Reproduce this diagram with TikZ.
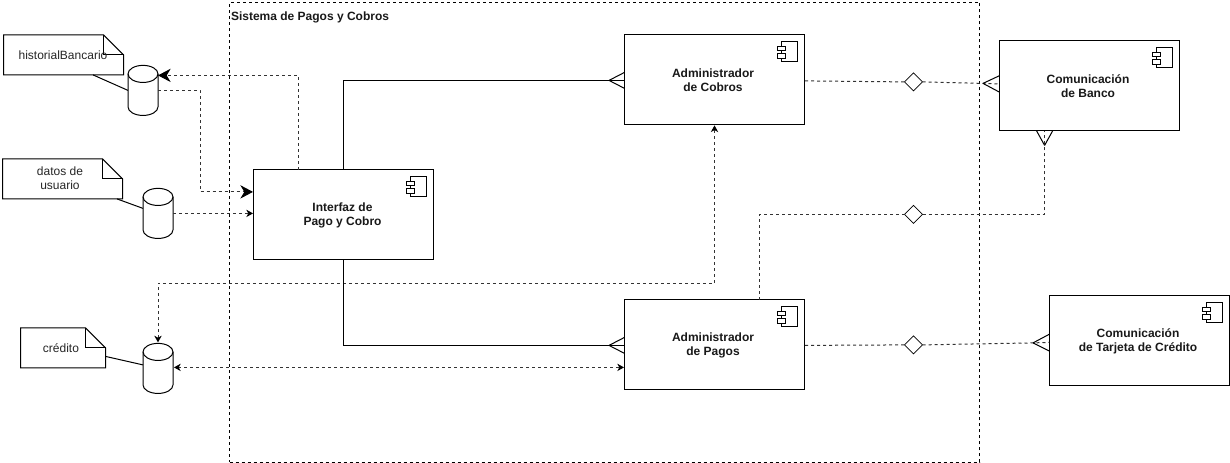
\documentclass[tikz,border=0pt]{standalone}
\usepackage{fontspec}
\setmainfont{Liberation Sans}
\usetikzlibrary{arrows.meta,calc,shapes.geometric}
\tikzset{
  x=0.75pt,y=-0.75pt,
  every node/.style={inner sep=0pt,outer sep=0pt},
  base/.style={line width=0.75pt,black,line join=miter},
  dash33/.style={base,dash pattern=on 2.25pt off 2.25pt},
  flow/.style={dash33,draw=black!80,arrows={-},fill=none},
  comp/.style={base,draw,fill=white,minimum width=135pt,minimum height=67.5pt},
  complabel/.style={align=center,font=\fontsize{9}{10.5}\selectfont\bfseries,text=black!90},
  noteshape/.style={align=center,font=\fontsize{9}{10.5}\selectfont,text=black!85},
  cylshape/.style={minimum width=22.5pt,minimum height=37.5pt},
  dia/.style={line width=0.6pt,draw=black,fill=white,shape=diamond,aspect=1,minimum width=13.5pt,minimum height=13.5pt},
  big/.style={-{Stealth[length=9.5pt,width=10pt,inset=3pt,black]}},
  small/.style={-{Stealth[length=5pt,width=5.5pt,inset=1.5pt,black]}},
  both/.style={{Stealth[length=5pt,width=5.5pt,inset=1.5pt,black]}-{Stealth[length=5pt,width=5.5pt,inset=1.5pt,black]}},
}
\newcommand{\compicon}[1]{%
  \draw[base,fill=white] ($(#1.north east)+(-23,7)$) rectangle ($(#1.north east)+(-7,27)$);
  \draw[base,fill=white] ($(#1.north east)+(-27,11.5)$) rectangle ($(#1.north east)+(-19.5,16)$);
  \draw[base,fill=white] ($(#1.north east)+(-27,19)$) rectangle ($(#1.north east)+(-19.5,23.5)$);
}
\newcommand{\dbcyl}[3]{%
  \node[cylshape] (#1) at (#2,#3) {};
  \draw[base,fill=white] ($(#1.north west)+(0,8.5)$) arc[start angle=180,end angle=0,x radius=11.25pt,y radius=6.4pt]
     -- ($(#1.south east)+(0,-8.5)$) arc[start angle=0,end angle=-180,x radius=11.25pt,y radius=6.4pt] -- cycle;
  \draw[base] ($(#1.north west)+(0,8.5)$) arc[start angle=180,end angle=360,x radius=11.25pt,y radius=6.4pt];
}
\newcommand{\notepaper}[6]{%
  \draw[base,fill=white] (#2,#3) -- ({#4-20},#3) -- (#4,{#3+20}) -- (#4,#5) -- (#2,#5) -- cycle;
  \draw[base] ({#4-20},#3) -- ({#4-20},{#3+20}) -- (#4,{#3+20});
  \node[minimum width=1pt] (#1) at ({(#2+#4)/2},{(#3+#5)/2}) {};
}
\begin{document}
\begin{tikzpicture}
\useasboundingbox (0,-0.4) rectangle (1230,462.6);
% frame
\node[dash33,draw,minimum width=562.5pt,minimum height=345pt] (frame) at (604.5,232) {};
\node[anchor=west,font=\fontsize{9}{10.5}\selectfont\bfseries,text=black!90] (frametitle) at (231,16.8) {Sistema de Pagos y Cobros};
% components
\node[comp] (ii) at (343.5,214.5) {};
\node[comp] (ac) at (714.5,79.5) {};
\node[comp] (ap) at (714.5,344.5) {};
\node[comp] (cb) at (1089.5,85.5) {};
\node[comp] (ct) at (1139.5,340.5) {};
\node[complabel] (iit) at (342.5,215) {Interfaz de\\Pago y Cobro};
\node[complabel] (act) at (713,80) {Administrador\\de Cobros};
\node[complabel] (apt) at (713,345) {Administrador\\de Pagos};
\node[complabel] (cbt) at (1088,86) {Comunicación\\de Banco};
\node[complabel] (ctt) at (1138,341) {Comunicación\\de Tarjeta de Crédito};
\compicon{ii}\compicon{ac}\compicon{ap}\compicon{cb}\compicon{ct}
% stores
\dbcyl{c1}{143}{90}
\dbcyl{c2}{158}{213}
\dbcyl{c3}{158}{368}
% notes
\notepaper{n1}{3.5}{34.5}{123.5}{74.5}{}
\notepaper{n2}{2.5}{158.5}{122.5}{198.5}{}
\notepaper{n3}{20.5}{327.5}{105.5}{367.5}{}
\node[noteshape] (t1) at (63,55) {historialBancario};
\node[noteshape] (t2) at (60,178) {datos de\\usuario};
\node[noteshape] (t3) at (61,348) {crédito};
% note links
\coordinate (n1a) at (93,74.5); \coordinate (c1a) at (128,90);
\coordinate (n2a) at (117,198.5); \coordinate (c2a) at (143,208);
\coordinate (n3a) at (105.5,356); \coordinate (c3a) at (143,364.5);
\draw[base] (n1a) -- (c1a);
\draw[base] (n2a) -- (c2a);
\draw[base] (n3a) -- (c3a);
% dashed flows
\coordinate (iiup) at (298,169.5);
\coordinate (c1in) at (158,75);
\coordinate (c1out) at (158,90);
\coordinate (iiin1) at (253,191.5);
\coordinate (c2out) at (173,213);
\coordinate (iiin2) at (253,213);
\coordinate (c3top) at (158,342);
\coordinate (acbot) at (714.5,125);
\coordinate (c3r) at (174,367);
\coordinate (apl) at (624,367);
\draw[flow,big] (iiup) |- (c1in);
\draw[flow,big] (c1out) -- (200,90) |- (iiin1);
\draw[flow,small] (c2out) -- (iiin2);
\draw[flow,both] (c3top) |- (714.5,283) -- (acbot);
\draw[flow,both] (c3r) -- (apl);
% solid with crow feet
\coordinate (apex1) at (609,80);
\coordinate (apex2) at (609,345);
\coordinate (acl) at (624.5,80);
\coordinate (apl2) at (624.5,345);
\draw[base] (ii.north) |- (acl);
\draw[base] (ii.south) |- (apl2);
\foreach \a in {apex1,apex2}{
  \draw[base] (\a) -- ++(15.5,-8);
  \draw[base] (\a) -- ++(15.5,8);
}
% diamonds
\node[dia] (d1) at (913.5,81.5) {};
\node[dia] (d2) at (913.5,214) {};
\node[dia] (d3) at (913.5,344.5) {};
\coordinate (acr) at (805,80.5);
\coordinate (apr) at (805,345);
\coordinate (apex3) at (983,83);
\coordinate (apex4) at (1044.6,145);
\coordinate (apex5) at (1033,342.5);
\coordinate (aptop) at (759.5,299.5);
\draw[flow] (acr) -- (d1.west);
\draw[flow] (d1.east) -- (apex3) -- (999,83.5);
\draw[flow] (aptop) |- (d2.west);
\draw[flow] (d2.east) -| (1044.6,131);
\draw[flow] (apr) -- (d3.west);
\draw[flow] (d3.east) -- (apex5) -- (1049,342);
\draw[base] (apex3) -- ++(16,-7.5);
\draw[base] (apex3) -- ++(16,8.5);
\draw[base] (apex4) -- ++(-8,-14.5);
\draw[base] (apex4) -- ++(8,-14.5);
\draw[base] (apex5) -- ++(16,-8.5);
\draw[base] (apex5) -- ++(16,8);
\end{tikzpicture}
\end{document}
